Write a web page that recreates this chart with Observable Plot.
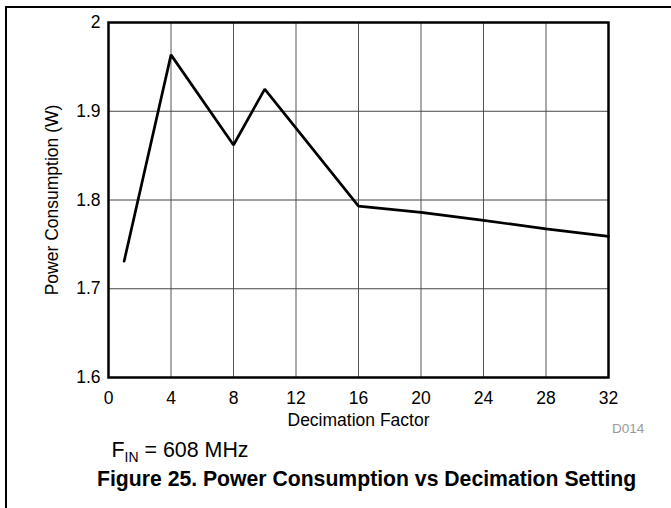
<!DOCTYPE html>
<html>
<head>
<meta charset="utf-8">
<script src="https://cdn.jsdelivr.net/npm/d3@7"></script>
<script src="https://cdn.jsdelivr.net/npm/@observablehq/plot@0.6"></script>
<style>
  html, body { margin: 0; padding: 0; background: #fff; }
  #wrap { position: relative; width: 671px; height: 508px; overflow: hidden; font-family: "Liberation Sans", Arial, sans-serif; }
  #chart { position: absolute; left: 0; top: 0; }
  .abs { position: absolute; white-space: nowrap; line-height: 1; }
</style>
</head>
<body>
<div id="wrap">
  <div class="abs" style="left:5px; top:6px; width:1.5px; height:510px; background:#000;"></div>
  <div class="abs" style="left:5px; top:6px; width:670px; height:1.5px; background:#000;"></div>
  <div id="chart"></div>
  <div class="abs" id="code" style="left:612px; top:421.6px; font-size:13.5px; color:#999;"></div>
  <div class="abs" id="note" style="left:111.5px; top:440.2px; font-size:21.4px; color:#000;"></div>
  <div class="abs" id="title" style="left:97px; top:468px; font-size:21.2px; font-weight:bold; color:#000;"></div>
</div>
<script>
// Data
const decimation = [1, 4, 8, 10, 16, 20, 24, 28, 32];
const powerW = [1.731, 1.9635, 1.862, 1.925, 1.793, 1.786, 1.777, 1.7675, 1.759];
const xTicks = [0, 4, 8, 12, 16, 20, 24, 28, 32];
const yTicks = [1.6, 1.7, 1.8, 1.9, 2.0];
const yTickLabels = ["1.6", "1.7", "1.8", "1.9", "2"];
const xLabel = "Decimation Factor";
const yLabel = "Power Consumption (W)";
const figureCode = "D014";
const noteMain = "F";
const noteSub = "IN";
const noteRest = " = 608 MHz";
const titleText = "Figure 25. Power Consumption vs Decimation Setting";

const rows = decimation.map((d, i) => ({x: d, y: powerW[i]}));
const font = '"Liberation Sans", Arial, sans-serif';

const chart = Plot.plot({
  width: 671,
  height: 440,
  marginLeft: 108,
  marginRight: 63,
  marginTop: 22,
  marginBottom: 63,
  style: {fontFamily: font, fontSize: "17.5px", color: "#000", background: "transparent", overflow: "visible"},
  x: {type: "linear", domain: [0, 32]},
  y: {type: "linear", domain: [1.6, 2.0]},
  marks: [
    Plot.gridX(xTicks, {stroke: "#555", strokeOpacity: 1, strokeWidth: 1}),
    Plot.gridY(yTicks, {stroke: "#444", strokeOpacity: 1, strokeWidth: 1}),
    Plot.axisX(xTicks, {
      tickSize: 0, tickPadding: 14.5, fontSize: 17.5,
      label: xLabel, labelAnchor: "center", labelArrow: "none", labelOffset: 48
    }),
    Plot.axisY(yTicks, {
      tickSize: 0, tickPadding: 8, fontSize: 17.5,
      tickFormat: (d) => yTickLabels[yTicks.indexOf(d)],
      label: yLabel, labelAnchor: "center", labelArrow: "none", labelOffset: 63
    }),
    Plot.line(rows, {x: "x", y: "y", stroke: "#000", strokeWidth: 2.7, strokeLinejoin: "miter"}),
    Plot.frame({stroke: "#000", strokeWidth: 2.5})
  ]
});
document.getElementById("chart").appendChild(chart);

document.getElementById("code").textContent = figureCode;
const note = document.getElementById("note");
note.append(noteMain);
const sub = document.createElement("span");
sub.textContent = noteSub;
sub.style.fontSize = "14px";
sub.style.position = "relative";
sub.style.top = "4.5px";
note.append(sub);
note.append(noteRest);
document.getElementById("title").textContent = titleText;
</script>
</body>
</html>
